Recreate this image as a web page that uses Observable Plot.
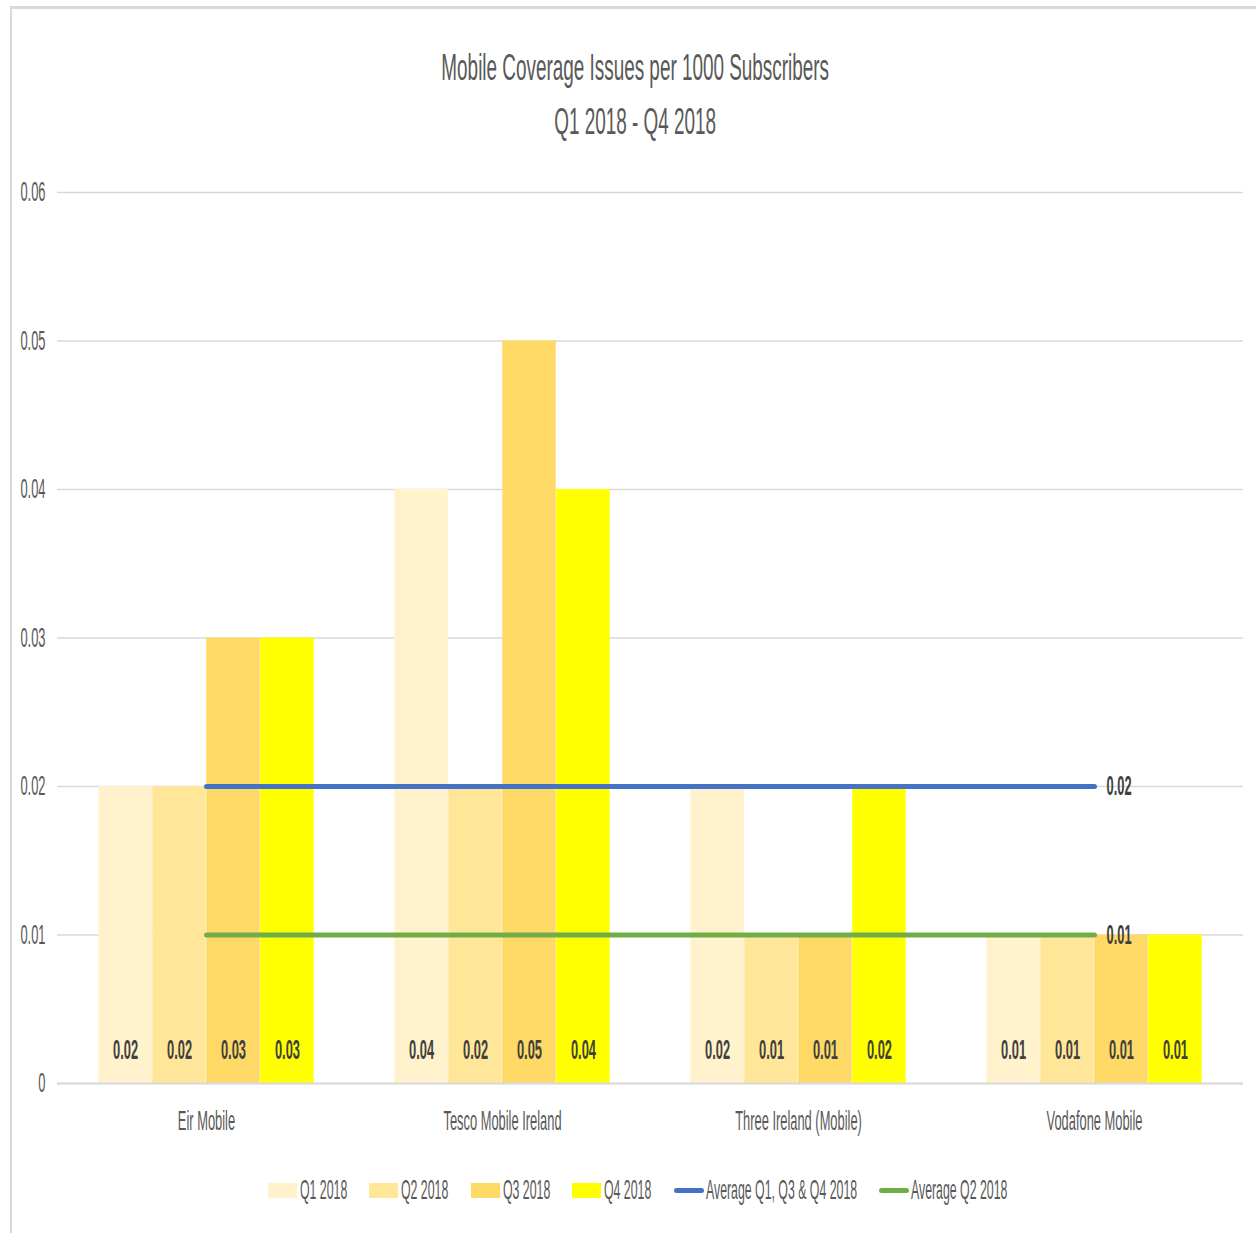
<!DOCTYPE html>
<html>
<head>
<meta charset="utf-8">
<script src="https://cdn.jsdelivr.net/npm/d3@7"></script>
<script src="https://cdn.jsdelivr.net/npm/@observablehq/plot@0.6"></script>
<style>
  html, body { margin: 0; padding: 0; background: #fff; }
  body { width: 1256px; height: 1233px; position: relative; overflow: hidden;
         font-family: "Liberation Sans", Arial, sans-serif; }
  #frame { position: absolute; left: 10px; top: 6px; width: 1260px; height: 1240px;
           border-top: 3px solid #d9d9d9; border-left: 2px solid #d9d9d9; }
  #title { position: absolute; left: 0; width: 1270px; top: 41px; text-align: center;
           color: #595959; font-size: 36px; line-height: 54px; }
  #title div { height: 54px; }
  #title span { display: inline-block; transform: scaleX(0.525); transform-origin: center; white-space: nowrap; }
  #chart { position: absolute; left: 0; top: 160px; }
  #legend { position: absolute; left: 0; width: 1275px; top: 1174px; height: 32px; display: flex;
            justify-content: center; align-items: center; color: #595959; font-size: 28px; }
  .item { display: flex; align-items: center; margin: 0 11px; }
  .sw { width: 29px; height: 15px; margin-right: 3px; flex: none; }
  .ln { width: 30px; height: 5px; border-radius: 3px; margin-right: 2px; flex: none; }
  .lt { display: inline-block; white-space: nowrap; transform-origin: left center; }
</style>
</head>
<body>
<div id="frame"></div>
<div id="title"><div><span>Mobile Coverage Issues per 1000 Subscribers</span></div><div><span>Q1 2018 - Q4 2018</span></div></div>
<div id="chart"></div>
<div id="legend"></div>
<script>
const categories = ["Eir Mobile", "Tesco Mobile Ireland", "Three Ireland (Mobile)", "Vodafone Mobile"];
const seriesNames = ["Q1 2018", "Q2 2018", "Q3 2018", "Q4 2018"];
const q1 = [0.02, 0.04, 0.02, 0.01];
const q2 = [0.02, 0.02, 0.01, 0.01];
const q3 = [0.03, 0.05, 0.01, 0.01];
const q4 = [0.03, 0.04, 0.02, 0.01];
const avgQ134 = [0.02, 0.02, 0.02, 0.02];
const avgQ2 = [0.01, 0.01, 0.01, 0.01];
const lineNames = ["Average Q1, Q3 & Q4 2018", "Average Q2 2018"];
const yTicks = [0, 0.01, 0.02, 0.03, 0.04, 0.05, 0.06];

const barColors = ["#FFF2CC", "#FFE699", "#FFD966", "#FFFF00"];
const lineColors = ["#4472C4", "#70AD47"];
const series = [q1, q2, q3, q4];
const SQ = 0.46; // horizontal squash of the lettering
const SQL = 0.44; // legend lettering squash

const width = 1256, marginLeft = 57, marginRight = 13;
const band = (width - marginLeft - marginRight) / categories.length;
const barW = band * 0.182;
const groupLeft = (band - barW * 4) / 2;

const marks = [
  Plot.gridY(yTicks, {stroke: "#d9d9d9", strokeOpacity: 1, strokeWidth: 1.5}),
];
series.forEach((vals, k) => {
  const data = categories.map((c, i) => ({cat: c, v: vals[i]}));
  marks.push(Plot.barY(data, {
    x: "cat", y: "v", fill: barColors[k],
    insetLeft: groupLeft + barW * k,
    insetRight: band - groupLeft - barW * (k + 1)
  }));
});
[avgQ134, avgQ2].forEach((vals, k) => {
  const data = categories.map((c, i) => ({cat: c, v: vals[i]}));
  marks.push(Plot.lineY(data, {x: "cat", y: "v", stroke: lineColors[k], strokeWidth: 5}));
});
series.forEach((vals, k) => {
  const data = categories.map((c, i) => ({cat: c, v: vals[i]}));
  marks.push(Plot.text(data, {
    x: "cat", y: () => 0, text: d => d.v.toFixed(2),
    dx: groupLeft + barW * k + barW / 2 - band / 2, dy: -33,
    fill: "#404040", fontSize: 28, fontWeight: "bold"
  }));
});
[avgQ134, avgQ2].forEach((vals, k) => {
  const n = categories.length - 1;
  marks.push(Plot.text([{cat: categories[n], v: vals[n]}], {
    x: "cat", y: "v", text: d => d.v.toFixed(2), textAnchor: "start",
    dx: 12, fill: "#404040", fontSize: 28, fontWeight: "bold"
  }));
});
marks.push(Plot.ruleY([0], {stroke: "#d9d9d9", strokeWidth: 2}));
marks.push(Plot.axisY({ticks: yTicks, tickSize: 0, tickPadding: 12, tickFormat: d => d === 0 ? "0" : d.toFixed(2),
  fill: "#595959", fontSize: 28, label: null}));
marks.push(Plot.axisX({tickSize: 0, tickPadding: 27, fill: "#595959", fontSize: 28, label: null}));

const chart = Plot.plot({
  width, height: 983,
  marginLeft, marginRight, marginTop: 32, marginBottom: 60,
  style: {fontFamily: '"Liberation Sans", Arial, sans-serif', background: "transparent"},
  x: {domain: categories, padding: 0},
  y: {domain: [0, 0.06]},
  marks
});
document.getElementById("chart").appendChild(chart);

// squash lettering horizontally in place (text-anchor is kept)
chart.querySelectorAll("text").forEach(t => {
  const len = t.getComputedTextLength();
  if (len > 0) {
    t.setAttribute("textLength", len * SQ);
    t.setAttribute("lengthAdjust", "spacingAndGlyphs");
  }
});

const legend = document.getElementById("legend");
function addItem(markerHtml, name) {
  const it = document.createElement("div"); it.className = "item";
  it.innerHTML = markerHtml;
  const sp = document.createElement("span"); sp.className = "lt"; sp.textContent = name;
  it.appendChild(sp);
  legend.appendChild(it);
  const w = sp.offsetWidth;
  sp.style.transform = `scaleX(${SQL})`;
  sp.style.marginRight = `${-w * (1 - SQL)}px`;
}
seriesNames.forEach((n, k) => addItem(`<div class="sw" style="background:${barColors[k]}"></div>`, n));
lineNames.forEach((n, k) => addItem(`<div class="ln" style="background:${lineColors[k]}"></div>`, n));
</script>
</body>
</html>
